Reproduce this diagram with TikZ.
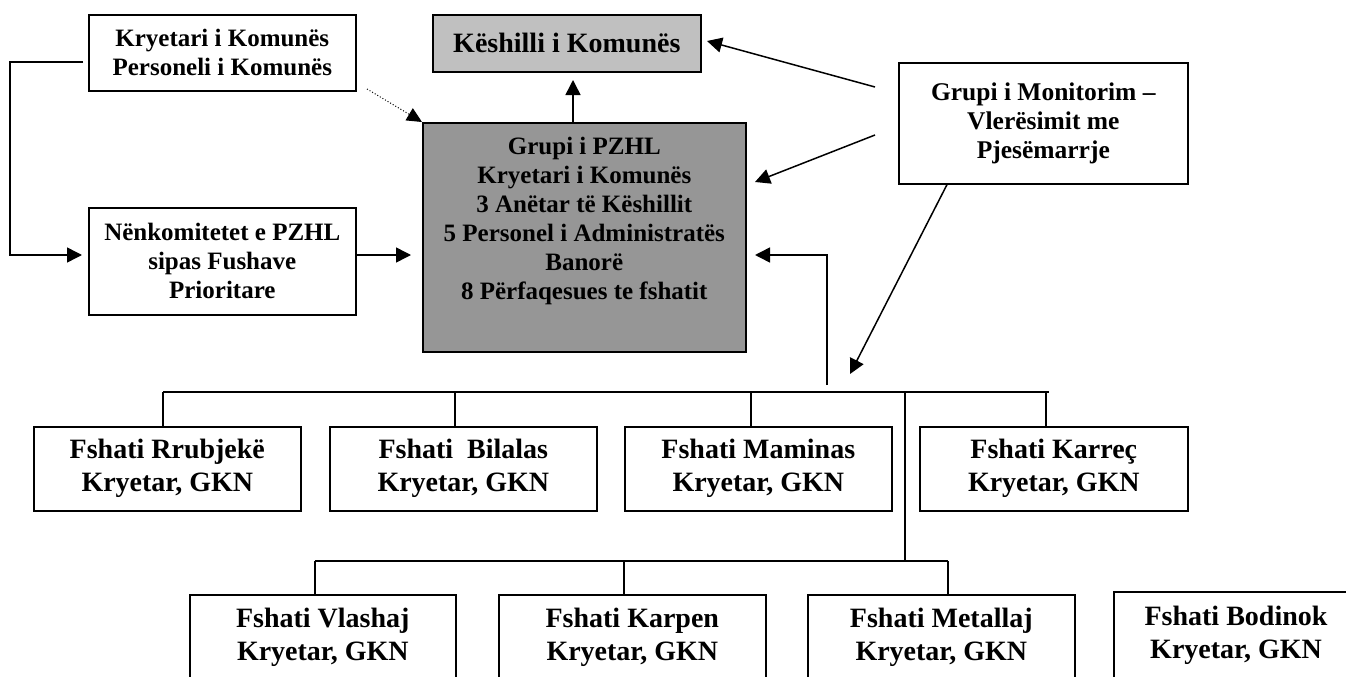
\documentclass[tikz,border=0pt]{standalone}
\usepackage{fontspec}
\setmainfont{Liberation Serif}
\usetikzlibrary{arrows.meta,calc}
\definecolor{lightbox}{HTML}{C0C0C0}
\definecolor{darkbox}{HTML}{969696}
\begin{document}
\begin{tikzpicture}[x=1pt,y=-1pt,
  box/.style={draw=black,line width=1.6pt,rectangle,inner sep=0pt,anchor=north west,align=center,
    font=\fontsize{25}{29}\selectfont\bfseries},
  vbox/.style={draw=black,line width=1.6pt,rectangle,inner sep=0pt,anchor=north west,align=center,
    minimum width=267pt,minimum height=84pt,font=\fontsize{28}{33}\selectfont\bfseries},
  conn/.style={line width=1.5pt},
  arr/.style={line width=1.5pt,-{Triangle[length=15pt,width=15pt]}}]
\useasboundingbox (0,0) rectangle (1346,677);
\clip (0,0) rectangle (1346,677);

% top boxes
\node[box,minimum width=267pt,minimum height=76pt] (kryet) at (88,14) {Kryetari i Komunës\\Personeli i Komunës};
\node[box,minimum width=267pt,minimum height=107pt] (nenk) at (88,207) {Nënkomitetet e PZHL\\sipas Fushave\\Prioritare};
\node[box,fill=lightbox,minimum width=268pt,minimum height=57pt,font=\fontsize{28}{32}\selectfont\bfseries] (kesh) at (432,14) {Këshilli i Komunës};
\node[box,fill=darkbox,minimum width=323pt,minimum height=229pt] (pzhl) at (422,122) {};
\node[align=center,anchor=north,inner sep=0pt,font=\fontsize{25}{29}\selectfont\bfseries] (pzhlt) at ($(pzhl.north)+(0,15)$)
  {Grupi i PZHL\\Kryetari i Komunës\\3 Anëtar të Këshillit\\5 Personel i Administratës\\Banorë\\8 Përfaqesues te fshatit};
\node[box,minimum width=289pt,minimum height=121pt,font=\fontsize{25.5}{29}\selectfont\bfseries] (monit) at (898,62) {Grupi i Monitorim –\\Vlerësimit me\\Pjesëmarrje};

% village boxes
\node[vbox] (r1) at (33,426) {Fshati Rrubjekë\\Kryetar, GKN};
\node[vbox] (r2) at (329,426) {Fshati\ \ Bilalas\\Kryetar, GKN};
\node[vbox] (r3) at (624,426) {Fshati Maminas\\Kryetar, GKN};
\node[vbox,minimum width=268pt] (r4) at (919,426) {Fshati Karreç\\Kryetar, GKN};
\node[vbox,minimum width=266pt] (s1) at (189,594) {Fshati Vlashaj\\Kryetar, GKN};
\node[vbox] (s2) at (498,594) {Fshati Karpen\\Kryetar, GKN};
\node[vbox] (s3) at (807,594) {Fshati Metallaj\\Kryetar, GKN};
\node[vbox,line width=2pt,minimum width=244pt,minimum height=87pt] (s4) at (1113,591) {Fshati Bodinok\\Kryetar, GKN};

% free ends
\coordinate (kl) at (83,62);
\coordinate (kd) at (367,89);
\coordinate (ntip) at (82,255);
\coordinate (m1) at (875,87);
\coordinate (m2) at (875,135);
\coordinate (ktip) at (707,41);
\coordinate (ptip) at (755,182);
\coordinate (btip) at (850,374);
\coordinate (up) at (827,385);
\coordinate (etip) at (755,255);
\coordinate (ptop) at (573,122);
\coordinate (kbot) at (573,80);
\coordinate (nr) at (357,255);
\coordinate (pl) at (411,255);
\coordinate (bus1l) at (163,392);
\coordinate (bus1r) at (1049,392);
\coordinate (bus2l) at (315,561);
\coordinate (bus2r) at (948,561);

% connectors
\draw[arr] (kl) -- (10,62) |- (ntip);
\draw[line width=1pt,dotted,-{Triangle[length=15pt,width=14pt]}] (kd) -- (pzhl.north west);
\draw[arr] (nr) -- (pl);
\draw[arr] (ptop) -- (kbot);
\draw[arr] (m1) -- (ktip);
\draw[arr] (m2) -- (ptip);
\draw[arr] ($(monit.south west)+(49,0)$) -- (btip);
\draw[arr] (up) -- (827,255) -- (etip);

% bus lines
\draw[conn] (bus1l) -- (bus1r);
\draw[conn] (bus1l) -- (bus1l |- r1.north);
\draw[conn] (455,392) -- (455,426);
\draw[conn] (751,392) -- (751,426);
\draw[conn] (1046,392) -- (1046,426);
\draw[conn] (905,392) -- (905,561);
\draw[conn] (bus2l) -- (bus2r);
\draw[conn] (bus2l) -- (bus2l |- s1.north);
\draw[conn] (624,561) -- (624,594);
\draw[conn] (bus2r) -- (bus2r |- s3.north);
\end{tikzpicture}
\end{document}
